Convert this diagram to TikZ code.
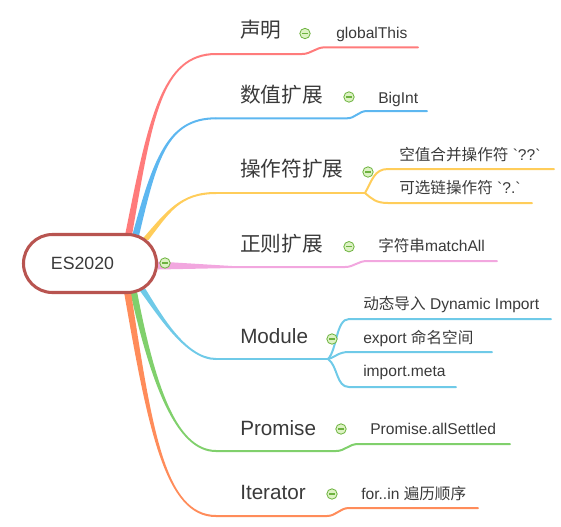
\documentclass[tikz,border=0pt]{standalone}
\usepackage{fontspec}
\newfontfamily\latinfont{Liberation Sans}
\newfontfamily\cjk{Noto Sans CJK SC}
\usetikzlibrary{calc,backgrounds}

\definecolor{cred}{HTML}{FF7B7B}
\definecolor{cblue}{HTML}{5DB7F0}
\definecolor{cyellow}{HTML}{FFCD5A}
\definecolor{cpink}{HTML}{F2A7DF}
\definecolor{cmod}{HTML}{6FCAE8}
\definecolor{cgreen}{HTML}{80D06C}
\definecolor{corange}{HTML}{FF8C5A}
\definecolor{croot}{HTML}{B85450}
\definecolor{ctext}{HTML}{3A3A3A}
\definecolor{cfold}{HTML}{DDF2C4}
\definecolor{cfoldline}{HTML}{6DB33F}

% tapered branch: colour, start, control, control, end, turn (-1 up, 1 down)
\newcommand{\tbranch}[6]{%
  \fill[#1] ($(#2)+(-3.5,0)$) .. controls ($(#3)+(-2,0)$) and ($(#4)+(0,{1.2*(#6)})$) .. ($(#5)+(0,{#6})$)
    -- ($(#5)+(0,{-(#6)})$) .. controls ($(#4)+(0,{-1.2*(#6)})$) and ($(#3)+(2,0)$) .. ($(#2)+(3.5,0)$) -- cycle;}

\begin{document}
\begin{tikzpicture}[x=0.75pt,y=-0.75pt,
    root/.style={rectangle,rounded corners=21.7pt,draw=croot,line width=2.3pt,fill=white,
      minimum width=99.75pt,minimum height=43.5pt},
    topic/.style={anchor=west,inner sep=0pt,text height=0.74em,text depth=0pt,text=ctext,yshift=-2.2pt,
      font=\latinfont\fontsize{15.5pt}{18pt}\selectfont},
    sub/.style={topic,yshift=1.1pt,font=\latinfont\fontsize{11.7pt}{14pt}\selectfont},
    fold/.style={circle,draw=cfoldline,line width=0.6pt,fill=cfold,minimum size=7.8pt,inner sep=0pt,
      path picture={\draw[cfoldline,line width=0.8pt] ($(path picture bounding box.west)+(1.8pt,0)$)
        -- ($(path picture bounding box.east)+(-1.8pt,0)$);}},
    ul/.style={draw=#1,line width=1.5pt,line cap=round}]
  \useasboundingbox (0,0) rectangle (561,526);

  \node[root,label={[text=ctext,xshift=-5.6pt,font=\latinfont\fontsize{13.3pt}{16pt}\selectfont]center:ES2020}]
    (root) at (90,263.5) {};

  % topics
  \node[topic] (t1) at (240,30) {{\cjk 声明}};
  \node[topic] (t2) at (240,95) {{\cjk 数值扩展}};
  \node[topic] (t3) at (240,168.5) {{\cjk 操作符扩展}};
  \node[topic] (t4) at (240,243.5) {{\cjk 正则扩展}};
  \node[topic] (t5) at (240,335.5) {Module};
  \node[topic] (t6) at (240,427.5) {Promise};
  \node[topic] (t7) at (240,491.5) {Iterator};

  % subtopics
  \node[sub] (d1) at (336,31.7) {globalThis};
  \node[sub] (d2) at (378,96.7) {BigInt};
  \node[sub] (d3a) at (399,153.7) {{\cjk 空值合并操作符} `??`};
  \node[sub] (d3b) at (399,186.7) {{\cjk 可选链操作符} `?.`};
  \node[sub] (d4) at (378,245.5) {{\cjk 字符串}matchAll};
  \node[sub] (d5a) at (363,303) {{\cjk 动态导入} Dynamic Import};
  \node[sub] (d5b) at (363,336.7) {export {\cjk 命名空间}};
  \node[sub] (d5c) at (363,370) {import.meta};
  \node[sub] (d6) at (370,428.3) {Promise.allSettled};
  \node[sub] (d7) at (361,493.3) {for..in {\cjk 遍历顺序}};

  \coordinate (s1) at ($(root.north)+(38,5)$);
  \coordinate (s2) at ($(root.north)+(45,5)$);
  \coordinate (s3) at ($(root.north)+(55,7)$);
  \coordinate (s5) at ($(root.south)+(52,-5)$);
  \coordinate (s6) at ($(root.south)+(43,-5)$);
  \coordinate (s7) at ($(root.south)+(37,-5)$);
  \coordinate (e1) at (216,54);    \coordinate (k1) at (302,54);
  \coordinate (m1) at (325,47.3);  \coordinate (n1) at (418,47.3);
  \coordinate (e2) at (216,118.3); \coordinate (k2) at (347,118.3);
  \coordinate (m2) at (367,111);   \coordinate (n2) at (427,111);
  \coordinate (e3) at (216,193);   \coordinate (f3) at (365,193);
  \coordinate (m3a) at (388,169);  \coordinate (n3a) at (554,169);
  \coordinate (m3b) at (388,203);  \coordinate (n3b) at (532,203);
  \coordinate (e4) at (232,267);   \coordinate (k4) at (345,267);
  \coordinate (m4) at (367,261);   \coordinate (n4) at (497,261);
  \coordinate (e5) at (216,359);   \coordinate (f5) at (328,359);
  \coordinate (m5a) at (349,319);  \coordinate (n5a) at (551,319);
  \coordinate (m5b) at (349,352);  \coordinate (n5b) at (492,352);
  \coordinate (m5c) at (349,387);  \coordinate (n5c) at (456,387);
  \coordinate (e6) at (216,451);   \coordinate (k6) at (336,451);
  \coordinate (m6) at (358,444);   \coordinate (n6) at (510,444);
  \coordinate (e7) at (216,516);   \coordinate (k7) at (327,516);
  \coordinate (m7) at (349,508);   \coordinate (n7) at (478,508);

  \begin{scope}[on background layer]
    \tbranch{cred}{s1}{150,120}{161,54}{e1}{-1}
    \tbranch{cblue}{s2}{155,159}{167,118.3}{e2}{-1}
    \tbranch{cyellow}{s3}{168,212}{180,193}{e3}{-1}
    \tbranch{cmod}{s5}{158,312}{185,359}{e5}{1}
    \tbranch{cgreen}{s6}{152,380}{175,451}{e6}{1}
    \tbranch{corange}{s7}{150,430}{165,516}{e7}{1}
    \fill[cpink] ($(root.east)+(0,-2)$) .. controls (195,264) .. ($(e4)+(0,-1)$)
      -- ($(e4)+(0,1)$) .. controls (195,269.5) .. ($(root.east)+(0,6)$) -- cycle;

    \draw[ul=cred] (e1) -- (k1) to[out=0,in=180] (m1) -- (n1);
    \draw[ul=cblue] (e2) -- (k2) to[out=0,in=180] (m2) -- (n2);
    \draw[ul=cyellow] (e3) -- (f3);
    \draw[ul=cyellow] (f3) .. controls (372,181) and (374,169) .. (m3a) -- (n3a);
    \draw[ul=cyellow] (f3) .. controls (372,199) and (376,203) .. (m3b) -- (n3b);
    \draw[ul=cpink] (e4) -- (k4) to[out=0,in=180] (m4) -- (n4);
    \draw[ul=cmod] (e5) -- (f5);
    \draw[ul=cmod] (f5) .. controls (337,350) and (336,319) .. (m5a) -- (n5a);
    \draw[ul=cmod] (f5) .. controls (336,357) and (338,352) .. (m5b) -- (n5b);
    \draw[ul=cmod] (f5) .. controls (338,366) and (336,387) .. (m5c) -- (n5c);
    \draw[ul=cgreen] (e6) -- (k6) to[out=0,in=180] (m6) -- (n6);
    \draw[ul=corange] (e7) -- (k7) to[out=0,in=180] (m7) -- (n7);
  \end{scope}

  % fold icons
  \node[fold] (i0) at (165,263) {};
  \node[fold] (i1) at (305,33.5) {};
  \node[fold] (i2) at (349,97) {};
  \node[fold] (i3) at (368,172) {};
  \node[fold] (i4) at (349,246.7) {};
  \node[fold] (i5) at (332,339) {};
  \node[fold] (i6) at (341,429) {};
  \node[fold] (i7) at (332,494) {};
\end{tikzpicture}
\end{document}
